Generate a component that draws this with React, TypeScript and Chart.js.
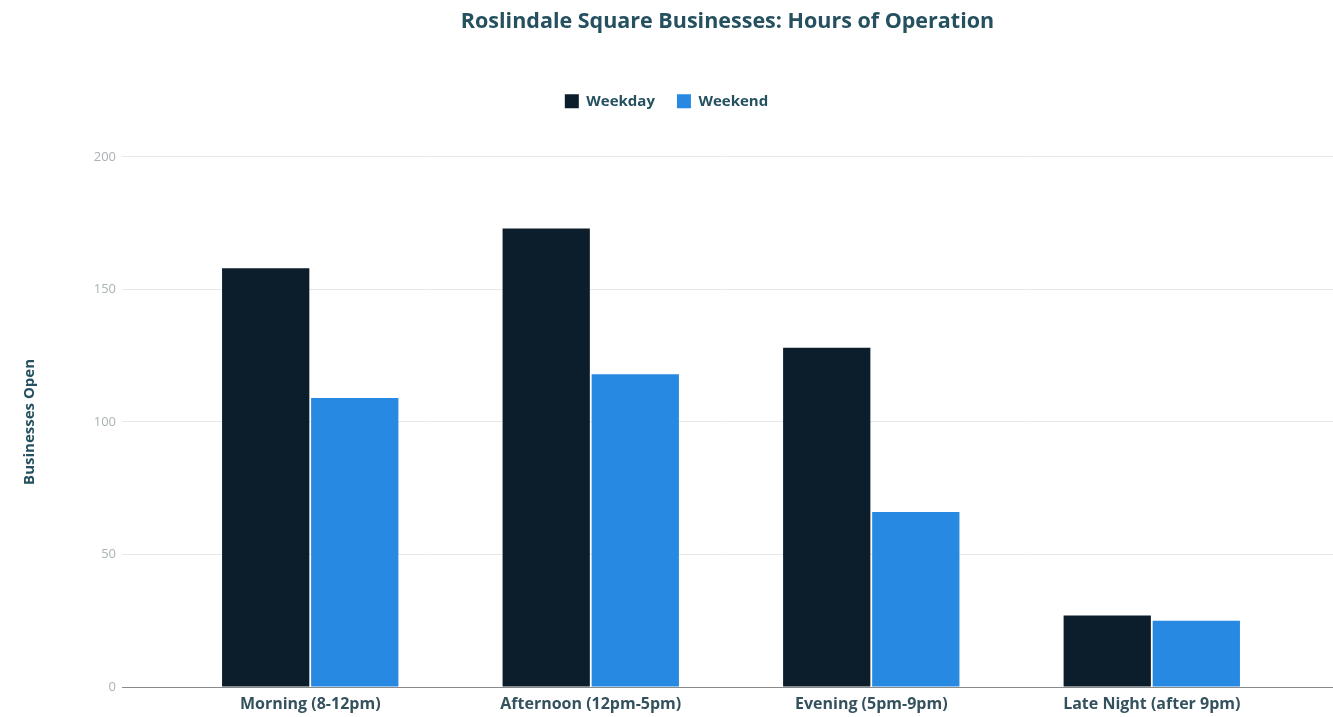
import React, { useEffect, useRef } from "react";
import { Chart, registerables } from "chart.js";

Chart.register(...registerables);

const categories = ["Morning (8-12pm)", "Afternoon (12pm-5pm)", "Evening (5pm-9pm)", "Late Night (after 9pm)"];
const weekdayValues = [158, 173, 128, 27];
const weekendValues = [109, 118, 66, 25];
const yTicks = [0, 50, 100, 150, 200];

const FONT = "'Open Sans', 'Noto Sans', sans-serif";

export default function App() {
  const ref = useRef<HTMLCanvasElement | null>(null);

  useEffect(() => {
    if (!ref.current) return;
    const chart = new Chart(ref.current, {
      type: "bar",
      data: {
        labels: categories,
        datasets: [
          {
            label: "Weekday",
            data: weekdayValues,
            backgroundColor: "#0c1e2c",
            xAxisID: "x",
            yAxisID: "y",
            barPercentage: 0.98,
            categoryPercentage: 0.635,
          },
          {
            label: "Weekend",
            data: weekendValues,
            backgroundColor: "#2789e2",
            xAxisID: "x",
            yAxisID: "y",
            barPercentage: 0.98,
            categoryPercentage: 0.635,
          },
        ],
      },
      options: {
        responsive: true,
        maintainAspectRatio: false,
        animation: false,
        layout: { padding: { left: 0, right: 0, top: 0, bottom: 0 } },
        plugins: {
          title: {
            display: true,
            text: "Roslindale Square Businesses: Hours of Operation",
            fullSize: false,
            color: "#24505f",
            font: { family: FONT, size: 21.5, weight: "bold" },
            padding: { top: 9, bottom: 37 },
          },
          legend: {
            display: true,
            position: "top",
            labels: {
              color: "#24505f",
              font: { family: FONT, size: 15, weight: "bold" },
              boxWidth: 14,
              boxHeight: 14,
              padding: 22,
            },
          },
          tooltip: { enabled: false },
        },
        scales: {
          x: {
            type: "category",
            position: "bottom",
            grid: { display: false, drawTicks: false },
            border: { display: true, color: "#8a8a8a", width: 1 },
            ticks: {
              color: "#34525e",
              font: { family: FONT, size: 16, weight: "bold" },
              padding: 8,
              maxRotation: 0,
              autoSkip: false,
            },
            afterBuildTicks: (s: any) => {
              s._startValue -= 0.171;
              s._valueRange += 0.317;
            },
            afterFit: (s: any) => {
              s.height = 30;
            },
          },
          spacer: {
            type: "category",
            position: "top",
            display: true,
            grid: { display: false, drawTicks: false },
            border: { display: false },
            ticks: { display: false },
            afterFit: (s: any) => {
              s.height = 38;
            },
          },
          y: {
            type: "linear",
            min: 0,
            max: 200,
            afterBuildTicks: (s: any) => {
              s.ticks = yTicks.map((v) => ({ value: v }));
            },
            grid: { color: "#e8e8e8", lineWidth: 1, drawTicks: false },
            border: { display: false },
            ticks: {
              color: "#a9b3b3",
              font: { family: FONT, size: 13 },
              padding: 6,
            },
            title: {
              display: true,
              text: "Businesses Open",
              color: "#24505f",
              font: { family: FONT, size: 15, weight: "bold" },
              padding: { top: 21, bottom: 0 },
            },
            afterFit: (s: any) => {
              s.width = 122;
            },
          },
        },
      },
    });
    return () => chart.destroy();
  }, []);

  return (
    <div style={{ position: "fixed", left: 0, top: 0, width: 1333, height: 717, background: "#ffffff" }}>
      <canvas ref={ref} />
    </div>
  );
}
